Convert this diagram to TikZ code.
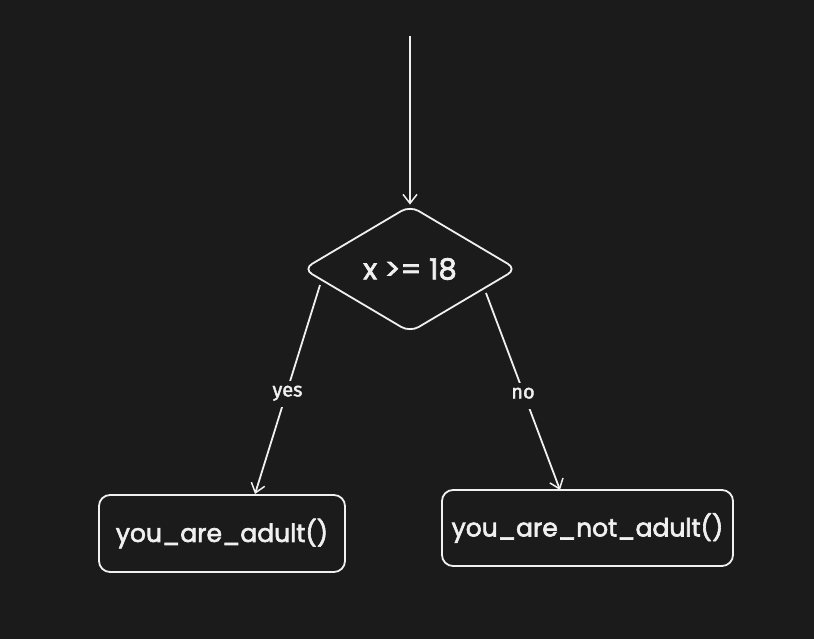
\documentclass[tikz,border=0pt]{standalone}
\usepackage{fontspec}
\setmainfont{Poppins}[FakeBold=2.5]
\newfontfamily\labelfont{Fira Sans}[FakeBold=2]
\usetikzlibrary{shapes.geometric,arrows.meta}
\definecolor{bg}{RGB}{27,27,27}
\definecolor{ink}{RGB}{240,240,240}
\tikzset{
  dia/.style={diamond, draw=ink, line width=1.8pt, rounded corners=10pt, minimum width=214pt, minimum height=127pt, inner sep=0pt, text=ink, font=\fontsize{29}{31}\selectfont},
  fbox/.style={rectangle, draw=ink, line width=1.8pt, rounded corners=11pt, inner sep=0pt, text=ink, font=\fontsize{25}{27}\selectfont},
  conn/.style={draw=ink, line width=1.8pt, -{Straight Barb[length=9pt,width=14pt,line width=1.5pt]}},
  elabel/.style={fill=bg, text=ink, inner sep=5pt, text height=11pt, text depth=5pt, yshift=-4pt, font=\labelfont\fontsize{20}{22}\selectfont}
}
\begin{document}
\begin{tikzpicture}[x=1pt,y=-1pt]
\fill[bg] (0,0) rectangle (814,639);
\useasboundingbox (0,0) rectangle (814,639);
\coordinate (start) at (410,36);
\node[dia] (d) at (410,269) {x >= 18};
\node[fbox, minimum width=246pt, minimum height=77pt] (a) at (222,533.5) {you\_are\_adult()};
\node[fbox, minimum width=291pt, minimum height=76pt] (b) at (587.5,528) {you\_are\_not\_adult()};
\coordinate (ys) at (320,285);
\coordinate (ye) at (255,494);
\coordinate (ns) at (486,293);
\coordinate (ne) at (560,490);
\draw[conn] (start) -- (d.north);
\draw[conn] (ys) -- node[elabel] (yl) {yes} (ye);
\draw[conn] (ns) -- node[elabel] (nl) {no} (ne);
\end{tikzpicture}
\end{document}
